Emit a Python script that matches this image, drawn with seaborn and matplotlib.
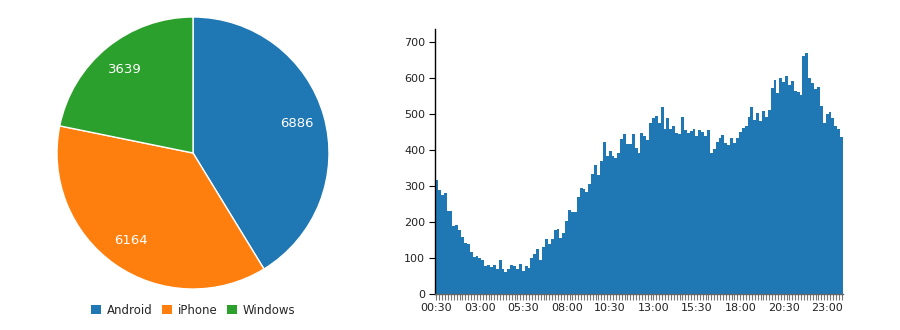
import matplotlib
matplotlib.use("Agg")
import matplotlib.pyplot as plt
from matplotlib.patches import Patch
import seaborn as sns
import pandas as pd

# ---- data ----
pie_labels = ["Android", "iPhone", "Windows"]
pie_values = [6886, 6164, 3639]
pie_colors = ["#1f77b4", "#ff7f0e", "#2ca02c"]

times = ["%02d:%02d" % divmod(m, 60) for m in range(30, 24 * 60, 10)]
counts = [
    318, 290, 276, 281, 231, 231, 190, 193, 179, 159,
    143, 140, 118, 104, 106, 101, 95, 79, 81, 76,
    81, 70, 95, 70, 62, 70, 81, 79, 70, 84,
    65, 79, 73, 101, 112, 126, 95, 131, 154, 140,
    154, 179, 181, 156, 170, 204, 234, 229, 229, 270,
    295, 293, 284, 306, 334, 359, 331, 370, 423, 384,
    398, 384, 379, 393, 431, 445, 418, 418, 445, 406,
    393, 448, 440, 429, 476, 490, 495, 476, 520, 459,
    490, 459, 468, 448, 445, 493, 456, 448, 454, 459,
    440, 456, 451, 440, 456, 393, 404, 423, 434, 443,
    420, 415, 434, 420, 434, 451, 462, 468, 493, 518,
    484, 504, 481, 509, 493, 512, 573, 595, 559, 601,
    590, 604, 581, 592, 565, 562, 554, 662, 668, 601,
    587, 570, 576, 523, 476, 501, 506, 490, 468, 459, 437,
]
label_every = 15
bar_color = "#1f77b4"

sns.set_theme(style="white")
plt.rcParams["font.family"] = ["DejaVu Sans"]

W, H = 900, 330
fig = plt.figure(figsize=(W / 100, H / 100), dpi=100)

# ---- pie ----
cx, cy, r = 193, 153, 136
axp = fig.add_axes([(cx - r) / W, (H - cy - r) / H, 2 * r / W, 2 * r / H])
wedges, texts = axp.pie(
    pie_values, labels=[str(v) for v in pie_values], colors=pie_colors,
    startangle=90, counterclock=False, labeldistance=0.79,
    wedgeprops=dict(edgecolor="white", linewidth=1),
    textprops=dict(color="white", fontsize=9.5, ha="center", va="center"),
)
axp.set_xlim(-1, 1)
axp.set_ylim(-1, 1)
axp.set_aspect("equal")

handles = [Patch(facecolor=c, edgecolor="none", label=l) for l, c in zip(pie_labels, pie_colors)]
fig.legend(handles=handles, loc="center", bbox_to_anchor=(cx / W, (H - 310) / H),
           ncol=3, frameon=False, fontsize=8.5, handlelength=0.85, handleheight=0.85,
           handletextpad=0.5, columnspacing=0.8, borderaxespad=0)

# ---- bars ----
left, right, top, bottom = 435, 843, 29.3, 294.3
axb = fig.add_axes([left / W, (H - bottom) / H, (right - left) / W, (bottom - top) / H])
df = pd.DataFrame({"time": times, "count": counts})
sns.barplot(data=df, x="time", y="count", color=bar_color, saturation=1,
            width=1.0, linewidth=0, ax=axb)
axb.set_xlim(-0.5, len(times) - 0.5)
axb.set_ylim(0, max(counts) * 1.1)
axb.set_yticks(range(0, 701, 100))
axb.set_xticks(range(len(times)))
axb.set_xticklabels([t if i % label_every == 0 else "" for i, t in enumerate(times)])
axb.set_xlabel("")
axb.set_ylabel("")
for s in ["top", "right"]:
    axb.spines[s].set_visible(False)
axb.spines["left"].set_color("black")
axb.spines["left"].set_linewidth(1)
axb.spines["bottom"].set_color("#666666")
axb.spines["bottom"].set_linewidth(1)
axb.tick_params(axis="y", length=4, width=0.8, color="black", labelsize=8,
                labelcolor="#222222", pad=3, left=True)
axb.tick_params(axis="x", length=4, width=0.8, color="#777777", labelsize=8,
                labelcolor="#222222", pad=2, bottom=True)
axb.grid(False)

fig.savefig("out.png", dpi=100)
